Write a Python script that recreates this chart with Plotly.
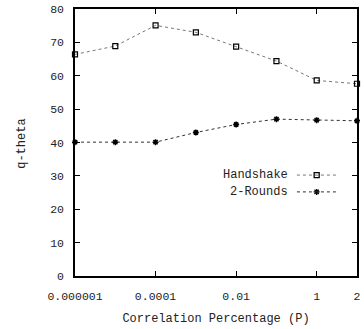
import plotly.graph_objects as go

categories = ["0.000001", "0.00001", "0.0001", "0.001", "0.01", "0.1", "1", "2"]
handshake = [66.4, 68.9, 75.1, 73.0, 68.7, 64.4, 58.6, 57.6]
two_rounds = [40.1, 40.1, 40.1, 43.0, 45.4, 47.0, 46.7, 46.5]
tick_idx = [0, 2, 4, 6, 7]
tick_text = ["0.000001", "0.0001", "0.01", "1", "2"]
y_ticks = [0, 10, 20, 30, 40, 50, 60, 70, 80]

FONT = "Liberation Mono"
x = list(range(len(categories)))

fig = go.Figure()
fig.add_trace(go.Scatter(
    x=x, y=handshake, mode="lines+markers", name="Handshake",
    line=dict(color="#777", width=1, dash="dot"),
    marker=dict(symbol="square-open", size=5, color="black", line=dict(width=1.2)),
    showlegend=False, cliponaxis=False))
fig.add_trace(go.Scatter(
    x=x, y=two_rounds, mode="lines+markers", name="2-Rounds",
    line=dict(color="#333", width=1, dash="dot"),
    marker=dict(symbol="asterisk-open", size=5, color="black", line=dict(width=1.5)),
    showlegend=False, cliponaxis=False))

# custom legend (text left of sample, like the original)
legend_items = [("Handshake", 0.378, "#777", "square-open"),
                ("2-Rounds", 0.315, "#333", "asterisk-open")]
for name, ly, col, sym in legend_items:
    fig.add_annotation(xref="paper", yref="paper", x=0.762, y=ly, text=name,
                       showarrow=False, xanchor="right", yanchor="middle",
                       font=dict(family=FONT, size=12, color="#222"))
    fig.add_shape(type="line", xref="paper", yref="paper", x0=0.787, x1=0.930,
                  y0=ly, y1=ly, line=dict(color=col, width=1, dash="dot"))
    fig.add_trace(go.Scatter(x=[0.857], y=[ly], xaxis="x2", yaxis="y2", mode="markers",
                             marker=dict(symbol=sym, size=5, color="black",
                                         line=dict(width=1.3)),
                             showlegend=False, hoverinfo="skip"))

fig.add_annotation(xref="paper", yref="paper", x=-0.189, y=0.494, text="q-theta",
                   textangle=-90, showarrow=False, xanchor="center", yanchor="middle",
                   font=dict(family=FONT, size=12, color="#222"))

axis_common = dict(showline=True, linecolor="black", linewidth=1.5, mirror="ticks",
                   ticks="inside", ticklen=5, tickcolor="black", tickwidth=1,
                   showgrid=False, zeroline=False,
                   tickfont=dict(family=FONT, size=11.5, color="#222"))

fig.update_layout(
    width=364, height=329, margin=dict(l=75, r=3, t=9, b=53),
    paper_bgcolor="white", plot_bgcolor="white",
    xaxis=dict(range=[0, 7], tickvals=tick_idx, ticktext=tick_text,
               tickmode="array",
               title=dict(text="Correlation Percentage (P)", standoff=12,
                          font=dict(family=FONT, size=12, color="#222")),
               ticklabelstandoff=8, **axis_common),
    yaxis=dict(range=[0, 80], tickvals=y_ticks, ticklabelstandoff=7, **axis_common),
    xaxis2=dict(range=[0, 1], overlaying="x", visible=False),
    yaxis2=dict(range=[0, 1], overlaying="y", visible=False),
)

fig.write_html("out.html")
